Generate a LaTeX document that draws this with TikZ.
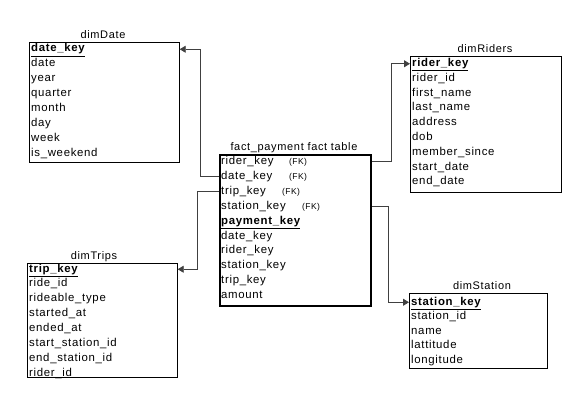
\documentclass[tikz,border=0pt]{standalone}
\usepackage{fontspec}
\setmainfont{Liberation Sans}
\usepackage{tikz}
\usetikzlibrary{arrows.meta,shapes}
\newcommand{\rowfont}{\fontsize{11.4}{13}\selectfont\addfontfeature{LetterSpace=6}}
\newcommand{\titlefont}{\fontsize{11}{13}\selectfont\addfontfeature{LetterSpace=6}}
\newcommand{\fkfont}{\fontsize{8.5}{10}\selectfont\addfontfeature{LetterSpace=5}}
\tikzstyle{field}=[anchor=base west,inner sep=0pt,text height=8pt,text depth=2.5pt,font=\rowfont]
\tikzstyle{pk}=[field,font=\rowfont\bfseries]
\tikzstyle{fk}=[anchor=base west,inner sep=0pt,font=\fkfont]
\tikzstyle{title}=[anchor=base,inner sep=0pt,font=\titlefont]
\tikzstyle{table}=[draw,line width=0.7pt,anchor=north west,inner sep=0pt]
\tikzstyle{facttable}=[table,line width=1.8pt]
\tikzstyle{edge}=[draw,line width=0.8pt,black!75,-{Triangle[length=6pt,width=7pt]}]

\begin{document}
\begin{tikzpicture}[x=1pt,y=-1pt]
        \useasboundingbox (0,0) rectangle (586,409);
        % tables
        \node[table,minimum width=150pt,minimum height=120pt] (dimDate) at (29,42) {};
        \node[facttable,minimum width=151pt,minimum height=151pt] (fact) at (219,154) {};
        \node[table,minimum width=151pt,minimum height=136pt] (dimRiders) at (410,56) {};
        \node[table,minimum width=150pt,minimum height=114pt] (dimTrips) at (27,263) {};
        \node[table,minimum width=138pt,minimum height=75pt] (dimStation) at (409,293) {};
        % titles
        \node[title] (tdate) at (103,39) {dimDate};
        \node[title] (tfact) at (294,150) {fact\_payment fact table};
        \node[title] (triders) at (485,53) {dimRiders};
        \node[title] (ttrips) at (94,259) {dimTrips};
        \node[title] (tstation) at (482,289) {dimStation};
        % dimDate
        \node[pk] (datekey) at (31,52) {\underline{date\_key}};
        \node[field] (date) at (31,66.9) {date};
        \node[field] (year) at (31,81.8) {year};
        \node[field] (quarter) at (31,96.7) {quarter};
        \node[field] (month) at (31,111.6) {month};
        \node[field] (day) at (31,126.5) {day};
        \node[field] (week) at (31,141.4) {week};
        \node[field] (isweekend) at (31,156.3) {is\_weekend};
        % fact table
        \node[field] (frider) at (221,164.5) {rider\_key};
        \node[field] (fdate) at (221,179.4) {date\_key};
        \node[field] (ftrip) at (221,194.3) {trip\_key};
        \node[field] (fstation) at (221,209.2) {station\_key};
        \node[fk] at (289,164.5) {(FK)};
        \node[fk] at (289,179.4) {(FK)};
        \node[fk] at (282,194.3) {(FK)};
        \node[fk] at (302,209.2) {(FK)};
        \node[pk] (paykey) at (221,224.1) {\underline{payment\_key}};
        \node[field] (fdate2) at (221,239) {date\_key};
        \node[field] (frider2) at (221,253.9) {rider\_key};
        \node[field] (fstation2) at (221,268.8) {station\_key};
        \node[field] (ftrip2) at (221,283.7) {trip\_key};
        \node[field] (amount) at (221,298.6) {amount};
        % dimRiders
        \node[pk] (riderkey) at (412,66.5) {\underline{rider\_key}};
        \node[field] (riderid) at (412,81.3) {rider\_id};
        \node[field] (firstname) at (412,96.1) {first\_name};
        \node[field] (lastname) at (412,110.9) {last\_name};
        \node[field] (address) at (412,125.7) {address};
        \node[field] (dob) at (412,140.5) {dob};
        \node[field] (membersince) at (412,155.3) {member\_since};
        \node[field] (startdate) at (412,170.1) {start\_date};
        \node[field] (enddate) at (412,184.9) {end\_date};
        % dimTrips
        \node[pk] (tripkey) at (29,272) {\underline{trip\_key}};
        \node[field] (rideid) at (29,286.9) {ride\_id};
        \node[field] (rideable) at (29,301.8) {rideable\_type};
        \node[field] (started) at (29,316.7) {started\_at};
        \node[field] (ended) at (29,331.6) {ended\_at};
        \node[field] (startst) at (29,346.5) {start\_station\_id};
        \node[field] (endst) at (29,361.4) {end\_station\_id};
        \node[field] (triprider) at (29,376.3) {rider\_id};
        % dimStation
        \node[pk] (stationkey) at (411,305) {\underline{station\_key}};
        \node[field] (stationid) at (411,319.6) {station\_id};
        \node[field] (name) at (411,334.2) {name};
        \node[field] (lat) at (411,348.8) {lattitude};
        \node[field] (lon) at (411,363.4) {longitude};
        % relations
        \draw[edge] (fact.west |- fdate) -- ++(-19,0) |- (dimDate.east |- datekey);
        \draw[edge] (fact.west |- ftrip) -- ++(-22,0) |- (dimTrips.east |- tripkey);
        \draw[edge] (fact.east |- frider) -- ++(20,0) |- (dimRiders.west |- riderkey);
        \draw[edge] (fact.east |- fstation) -- ++(17,0) |- (dimStation.west |- stationkey);
      \end{tikzpicture}
\end{document}
